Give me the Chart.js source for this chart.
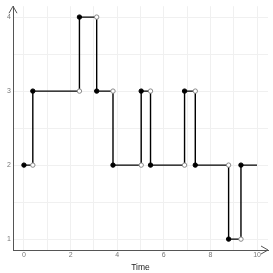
<!DOCTYPE html>
<html>
<head>
<meta charset="utf-8">
<script src="https://cdn.jsdelivr.net/npm/chart.js@4/dist/chart.umd.min.js"></script>
<style>
  html, body { margin: 0; padding: 0; background: #fff; }
  #wrap { width: 273px; height: 273px; }
</style>
</head>
<body>
<div id="wrap"><canvas id="chart" width="273" height="273"></canvas></div>
<script>
// jump times and the state held from each one
const jumpTimes = [0, 0.38, 2.38, 3.12, 3.82, 5.03, 5.43, 6.89, 7.35, 8.78, 9.31];
const states = [2, 3, 4, 3, 2, 3, 2, 3, 2, 1, 2];
const endTime = 10;
const xTicks = [0, 2, 4, 6, 8, 10];
const yTicks = [1, 2, 3, 4];

// step line: each state until the next jump, last one runs to endTime
const stepPoints = jumpTimes.map((t, i) => ({ x: t, y: states[i] }));
stepPoints.push({ x: endTime, y: states[states.length - 1] });

// filled dot at start of each interval, open dot at its end (before the jump)
const filledPts = jumpTimes.map((t, i) => ({ x: t, y: states[i] }));
const openPts = jumpTimes.slice(1).map((t, i) => ({ x: t, y: states[i] }));

const arrows = {
    id: 'arrows',
    afterDraw(chart) {
        const { ctx, chartArea: a } = chart;
        ctx.save();
        ctx.strokeStyle = '#555';
        ctx.lineWidth = 1;
        ctx.beginPath();
        // y axis arrow head
        ctx.moveTo(a.left - 4, a.top + 7);
        ctx.lineTo(a.left, a.top);
        ctx.lineTo(a.left + 4, a.top + 7);
        // x axis arrow head
        ctx.moveTo(a.right - 7, a.bottom - 4);
        ctx.lineTo(a.right, a.bottom);
        ctx.lineTo(a.right - 7, a.bottom + 4);
        ctx.stroke();
        ctx.restore();
    }
};

new Chart(document.getElementById('chart').getContext('2d'), {
    type: 'scatter',
    data: {
        datasets: [{
            type: 'line',
            data: stepPoints,
            stepped: 'before',
            borderColor: '#000',
            borderWidth: 1.4,
            pointRadius: 0,
            fill: false,
            order: 3
        }, {
            data: openPts,
            pointRadius: 2.2,
            pointBackgroundColor: '#fff',
            pointBorderColor: '#888',
            pointBorderWidth: 1,
            order: 2
        }, {
            data: filledPts,
            pointRadius: 2.2,
            pointBackgroundColor: '#000',
            pointBorderColor: '#000',
            pointBorderWidth: 1,
            order: 1
        }]
    },
    options: {
        responsive: false,
        animation: false,
        layout: { padding: { left: 0, right: 3, top: 3, bottom: 0 } },
        plugins: { legend: { display: false }, tooltip: { enabled: false } },
        scales: {
            x: {
                type: 'linear',
                min: -0.47,
                max: 10.47,
                afterBuildTicks: s => {
                    s.ticks = [];
                    for (let v = 0; v <= 10; v++) s.ticks.push({ value: v });
                },
                afterFit: s => { s.height = 23; },
                ticks: {
                    autoSkip: false,
                    maxRotation: 0,
                    padding: 1,
                    color: '#777',
                    font: { family: 'Liberation Sans', size: 7 },
                    callback: v => xTicks.includes(v) ? v : ''
                },
                grid: { color: '#f0f0f0', lineWidth: 1, drawTicks: false },
                border: { color: '#555', width: 1 },
                title: {
                    display: true,
                    text: 'Time',
                    color: '#222',
                    padding: { top: 1, bottom: 0 },
                    font: { family: 'Liberation Sans', size: 8.5 }
                }
            },
            y: {
                type: 'linear',
                min: 0.853,
                max: 4.147,
                afterBuildTicks: s => {
                    s.ticks = [];
                    for (let v = 1; v <= 4; v += 0.5) s.ticks.push({ value: v });
                },
                afterFit: s => { s.width = 13; },
                ticks: {
                    autoSkip: false,
                    padding: 2,
                    color: '#777',
                    font: { family: 'Liberation Sans', size: 7 },
                    callback: v => yTicks.includes(v) ? v : ''
                },
                grid: { color: '#f0f0f0', lineWidth: 1, drawTicks: false },
                border: { color: '#555', width: 1 }
            }
        }
    },
    plugins: [arrows]
});
</script>
</body>
</html>
